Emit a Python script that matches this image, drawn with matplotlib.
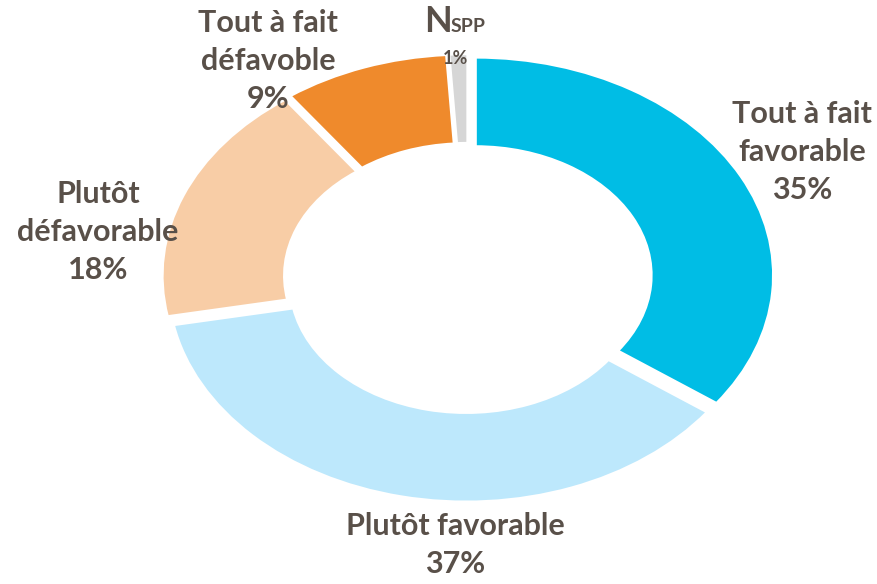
import matplotlib
matplotlib.use("Agg")
import matplotlib.pyplot as plt

categories = ["Tout à fait favorable", "Plutôt favorable", "Plutôt défavorable",
              "Tout à fait défavoble", "NSPP"]
values = [35, 37, 18, 9, 1]
colors = ["#00BDE5", "#BDE8FC", "#F8CDA6", "#EF8A2C", "#D6D6D6"]
text_color = "#595049"

W, H = 877, 584
fig = plt.figure(figsize=(W / 100, H / 100), dpi=100)
ax = fig.add_axes([0, 0, 1, 1])

cx, cy = 468, 584 - 278   # centre in px (from bottom)
rx, ry = 298, 218

ax.pie(values, colors=colors, startangle=90, counterclock=False,
       explode=[0.028] * len(values),
       wedgeprops=dict(width=0.41, edgecolor="white", linewidth=2))
ax.set_aspect("auto")
ax.set_xlim(-cx / rx, (W - cx) / rx)
ax.set_ylim(-cy / ry, (H - cy) / ry)
ax.axis("off")

font = ["Lato", "DejaVu Sans"]
kw = dict(color=text_color, fontweight="bold", family=font, ha="center",
          va="center", linespacing=1.45)

def px(x, y):
    return x / W, 1 - y / H

fig.text(*px(802, 152), "Tout à fait\nfavorable\n%d%%" % values[0], fontsize=22, **kw)
fig.text(*px(455, 545), "Plutôt favorable\n%d%%" % values[1], fontsize=22, **kw)
fig.text(*px(98, 232), "Plutôt\ndéfavorable\n%d%%" % values[2], fontsize=22, **kw)
fig.text(*px(268, 61), "Tout à fait\ndéfavoble\n%d%%" % values[3], fontsize=22, **kw)
# NSPP with small caps style
fig.text(*px(438, 22), "N", fontsize=26, color=text_color, fontweight="bold",
         family=font, ha="center", va="center")
fig.text(*px(468, 27), "SPP", fontsize=14, color=text_color, fontweight="bold",
         family=font, ha="center", va="center")
fig.text(*px(455, 58), "%d%%" % values[4], fontsize=13, color=text_color,
         fontweight="bold", family=font, ha="center", va="center")

fig.savefig("out.png", dpi=100)
